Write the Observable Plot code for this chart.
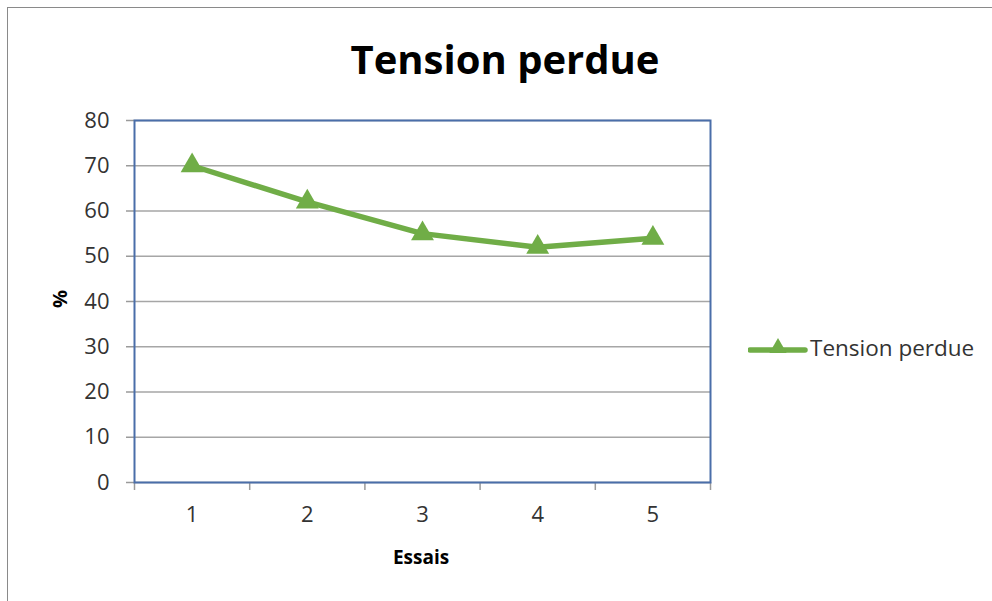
<!DOCTYPE html>
<html>
<head>
<meta charset="utf-8">
<script src="https://cdn.jsdelivr.net/npm/d3@7"></script>
<script src="https://cdn.jsdelivr.net/npm/@observablehq/plot@0.6"></script>
<style>
  html, body { margin: 0; padding: 0; background: #fff; }
  #wrap { position: relative; width: 992px; height: 601px; overflow: hidden; font-family: "Open Sans", sans-serif; }
  #frame { position: absolute; left: 7px; top: 7px; width: 1100px; height: 700px; border: 1.5px solid #8a8a8a; }
  #chart { position: absolute; left: 0; top: 0; }
  #title { position: absolute; left: 0; width: 1010px; top: 35px; text-align: center; font-weight: 700; font-size: 40px; color: #000; line-height: 1.2; }
  #xlabel { position: absolute; left: 321px; width: 200px; top: 546px; text-align: center; font-weight: 700; font-size: 19px; color: #000; line-height: 1.2; }
  #ylabel { position: absolute; left: 10px; width: 100px; top: 287px; text-align: center; font-weight: 700; font-size: 20px; color: #000; line-height: 1.2; transform: rotate(-90deg); transform-origin: 50% 50%; }
  #legend { position: absolute; left: 748px; top: 332px; display: flex; align-items: center; font-size: 22.5px; color: #333; }
  #legend svg { display: block; margin-right: 2px; }
</style>
</head>
<body>
<div id="wrap">
  <div id="frame"></div>
  <div id="chart"></div>
  <div id="title"></div>
  <div id="xlabel"></div>
  <div id="ylabel"></div>
  <div id="legend"></div>
</div>
<script>
// ---- data ----
const chartTitle = "Tension perdue";
const seriesName = "Tension perdue";
const xAxisTitle = "Essais";
const yAxisTitle = "%";
const trials = [1, 2, 3, 4, 5];
const values = [70, 62, 55, 52, 54];
const yTicks = [0, 10, 20, 30, 40, 50, 60, 70, 80];
const xBoundaries = [0.5, 1.5, 2.5, 3.5, 4.5, 5.5];

const green = "#70AD47";
const data = trials.map((t, i) => ({trial: t, value: values[i]}));

const plot = Plot.plot({
  width: 992,
  height: 601,
  marginLeft: 134,
  marginRight: 282,
  marginTop: 120,
  marginBottom: 119,
  style: {background: "transparent", fontFamily: "Open Sans, sans-serif", fontSize: "22px", color: "#333", overflow: "visible"},
  x: {type: "linear", domain: [0.5, 5.5], label: null},
  y: {domain: [0, 80], label: null},
  marks: [
    Plot.gridY(yTicks, {stroke: "#a6a6a6", strokeOpacity: 1, strokeWidth: 1.5}),
    Plot.axisY(yTicks, {tickSize: 8, tickPadding: 17, stroke: "#9a9a9a", strokeWidth: 1.5, fill: "#333", label: null, tickFormat: d => String(d)}),
    Plot.axisX(xBoundaries, {tickSize: 8, stroke: "#9a9a9a", strokeWidth: 1.5, tickFormat: () => "", label: null}),
    Plot.axisX(trials, {tickSize: 0, tickPadding: 24, fill: "#333", label: null, tickFormat: d => String(d)}),
    Plot.frame({stroke: "#4a6ea9", strokeWidth: 2}),
    Plot.line(data, {x: "trial", y: "value", stroke: green, strokeWidth: 5.5}),
    Plot.dot(data, {x: "trial", y: "value", symbol: "triangle", r: 8.5, fill: green, stroke: "none"})
  ]
});
document.getElementById("chart").appendChild(plot);

document.getElementById("title").textContent = chartTitle;
document.getElementById("xlabel").textContent = xAxisTitle;
document.getElementById("ylabel").textContent = yAxisTitle;

// legend
const legend = document.getElementById("legend");
const sw = d3.create("svg").attr("width", 60).attr("height", 24);
sw.append("line").attr("x1", 2).attr("x2", 57).attr("y1", 14).attr("y2", 14)
  .attr("stroke", green).attr("stroke-width", 5.5).attr("stroke-linecap", "round");
sw.append("path").attr("transform", "translate(30,12)")
  .attr("d", d3.symbol(d3.symbolTriangle, 130)()).attr("fill", green);
legend.appendChild(sw.node());
const lt = document.createElement("span");
lt.textContent = seriesName;
legend.appendChild(lt);
</script>
</body>
</html>
